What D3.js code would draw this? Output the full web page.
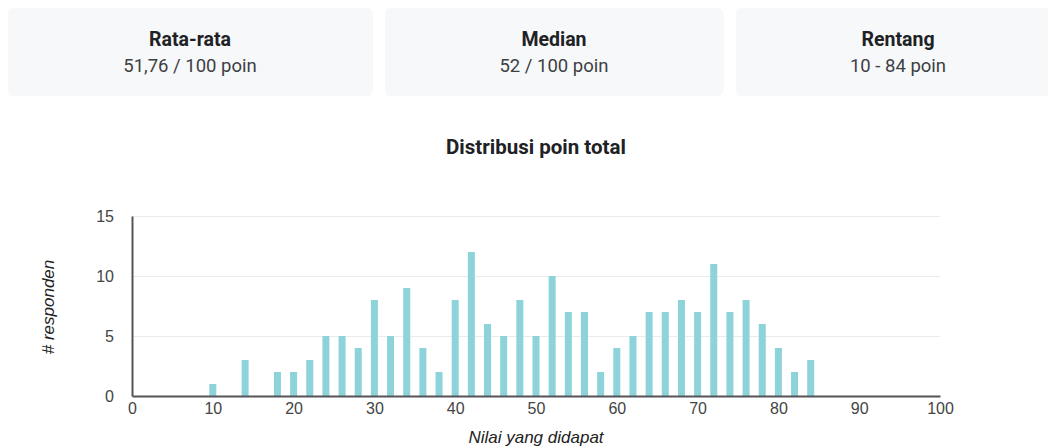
<!DOCTYPE html>
<html>
<head>
<meta charset="utf-8">
<script src="https://cdn.jsdelivr.net/npm/d3@7"></script>
<style>
  html, body { margin: 0; padding: 0; background: #fff; width: 1048px; height: 447px; overflow: hidden; }
  svg { display: block; }
</style>
</head>
<body>
<svg id="chart" width="1048" height="447"></svg>
<script>
// ---- Data ----
const cardTitles = ["Rata-rata", "Median", "Rentang"];
const cardValues = ["51,76 / 100 poin", "52 / 100 poin", "10 - 84 poin"];

const scores = [10, 12, 14, 16, 18, 20, 22, 24, 26, 28, 30, 32, 34, 36, 38, 40, 42, 44, 46, 48,
                50, 52, 54, 56, 58, 60, 62, 64, 66, 68, 70, 72, 74, 76, 78, 80, 82, 84];
const counts = [1, 0, 3, 0, 2, 2, 3, 5, 5, 4, 8, 5, 9, 4, 2, 8, 12, 6, 5, 8,
                5, 10, 7, 7, 2, 4, 5, 7, 7, 8, 7, 11, 7, 8, 6, 4, 2, 3];

const xTicks = [0, 10, 20, 30, 40, 50, 60, 70, 80, 90, 100];
const yTicks = [0, 5, 10, 15];

const chartTitle = "Distribusi poin total";
const xTitle = "Nilai yang didapat";
const yTitle = "# responden";

// ---- Drawing ----
const svg = d3.select("#chart");

// cards
const cardBoxes = [[8, 373], [385, 724], [736, 1060]];
const cardCenters = [190, 554, 898];
const cards = svg.selectAll("g.card").data(cardTitles).enter().append("g").attr("class", "card");
cards.append("rect")
  .attr("x", (d, i) => cardBoxes[i][0])
  .attr("y", 8)
  .attr("width", (d, i) => cardBoxes[i][1] - cardBoxes[i][0])
  .attr("height", 88)
  .attr("rx", 6)
  .attr("fill", "#f7f8fa");
cards.append("text")
  .attr("x", (d, i) => cardCenters[i])
  .attr("y", 46)
  .attr("text-anchor", "middle")
  .attr("font-family", "Roboto, sans-serif")
  .attr("font-weight", "bold")
  .attr("font-size", "19.5px")
  .attr("fill", "#202124")
  .text(d => d);
cards.append("text")
  .attr("x", (d, i) => cardCenters[i])
  .attr("y", 72)
  .attr("text-anchor", "middle")
  .attr("font-family", "Roboto, sans-serif")
  .attr("font-size", "18.5px")
  .attr("fill", "#3c4043")
  .text((d, i) => cardValues[i]);

// chart title
svg.append("text")
  .attr("x", 536).attr("y", 153.5)
  .attr("text-anchor", "middle")
  .attr("font-family", "Roboto, sans-serif")
  .attr("font-weight", "bold")
  .attr("font-size", "20.5px")
  .attr("fill", "#202124")
  .text(chartTitle);

const x = d3.scaleLinear().domain([0, 100]).range([132, 940]);
const y = d3.scaleLinear().domain([0, 15]).range([396, 216]);

// gridlines
svg.append("g")
  .selectAll("line").data(yTicks.filter(t => t > 0)).enter().append("line")
  .attr("x1", x(0)).attr("x2", x(100))
  .attr("y1", d => y(d) + 0.5).attr("y2", d => y(d) + 0.5)
  .attr("stroke", "#ebebeb").attr("stroke-width", 1);

// bars
const barW = 7;
svg.append("g")
  .selectAll("rect").data(scores).enter().append("rect")
  .attr("x", d => x(d) - barW / 2)
  .attr("y", (d, i) => y(counts[i]))
  .attr("width", barW)
  .attr("height", (d, i) => y(0) - y(counts[i]))
  .attr("fill", "#8ed2da");

// axes
const yAxis = svg.append("g")
  .attr("transform", `translate(${x(0)},0)`)
  .call(d3.axisLeft(y).tickValues(yTicks).tickSize(0).tickPadding(18));
const xAxis = svg.append("g")
  .attr("transform", `translate(0,${y(0)})`)
  .call(d3.axisBottom(x).tickValues(xTicks).tickSize(0).tickPadding(7));

[xAxis, yAxis].forEach(a => {
  a.select(".domain").attr("stroke", "#555").attr("stroke-width", 2);
  a.selectAll("text")
    .attr("font-family", "'Liberation Sans', Arial, sans-serif")
    .attr("font-size", "16px")
    .attr("fill", "#444");
});

// axis titles
svg.append("text")
  .attr("x", 536).attr("y", 443)
  .attr("text-anchor", "middle")
  .attr("font-family", "'Liberation Sans', Arial, sans-serif")
  .attr("font-style", "italic")
  .attr("font-size", "17px")
  .attr("fill", "#222")
  .text(xTitle);
svg.append("text")
  .attr("transform", "translate(54,307) rotate(-90)")
  .attr("text-anchor", "middle")
  .attr("font-family", "'Liberation Sans', Arial, sans-serif")
  .attr("font-style", "italic")
  .attr("font-size", "17px")
  .attr("fill", "#222")
  .text(yTitle);
</script>
</body>
</html>
